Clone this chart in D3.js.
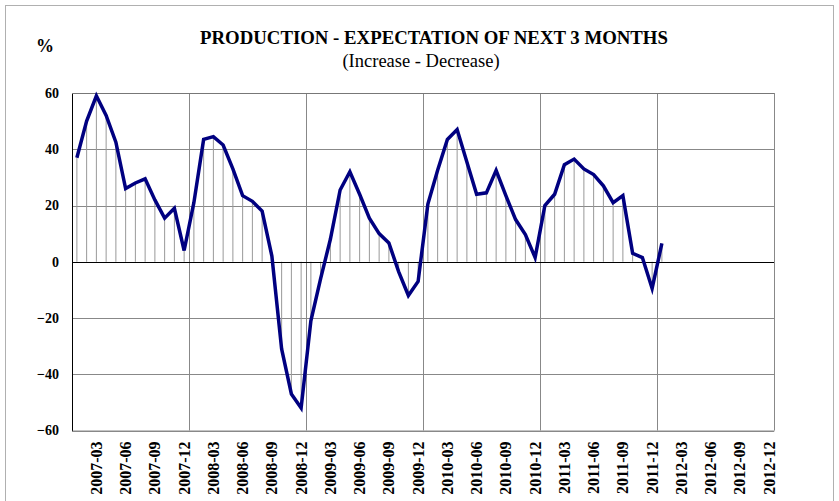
<!DOCTYPE html>
<html>
<head>
<meta charset="utf-8">
<script src="https://cdn.jsdelivr.net/npm/d3@7"></script>
<style>
  body { margin: 0; background: #fff; }
</style>
</head>
<body>
<svg></svg>
<script>
var serif = "'Liberation Serif', 'Times New Roman', Times, 'DejaVu Serif', serif";

var svg = d3.select("svg")
            .attr("width", 839)
            .attr("height", 501)
            .attr("font-family", serif);

// months 2007-01 .. 2012-12
var months = [];
for (var yr = 2007; yr <= 2012; yr++) {
    for (var m = 1; m <= 12; m++) months.push(yr + "-" + (m < 10 ? "0" + m : m));
}

// balance (increase - decrease), 2007-01 .. 2012-01
var values = [37, 50, 59, 52, 42.5, 26, 28, 29.5, 22, 15.5, 19, 4,
              21, 43.5, 44.5, 41.5, 33, 23.5, 21.5, 18, 2, -31, -47, -52,
              -21, -6, 8, 25.5, 32, 24, 15.5, 10, 6.7, -3.5, -12, -7,
              20.5, 32.5, 43.5, 47, 35.5, 24, 24.5, 32.5, 23.5, 15, 9.7, 1.5,
              20, 24, 34.5, 36.5, 33, 31, 27, 21, 23.5, 3, 1.5, -9.5, 6.5];

var yTicks = [-60, -40, -20, 0, 20, 40, 60];

var margin = {top: 93, right: 65, bottom: 70, left: 72},
    width = 839 - margin.left - margin.right,
    height = 501 - margin.top - margin.bottom - 0.5;

//outer frame
svg.append("rect")
    .attr("x", 5.5).attr("y", 5.5)
    .attr("width", 828).attr("height", 510)
    .style("fill", "none")
    .style("stroke", "#b0b0b0");

var g = svg.append("g").attr("transform", "translate(" + margin.left + "," + margin.top + ")");

var x = d3.scaleBand().domain(months).range([0, width]).padding(0),
    y = d3.scaleLinear().domain([-60, 60]).range([height, 0]);

var data = values.map(function(v, i) { return {month: months[i], value: v}; });

//horizontal grid
g.selectAll(".hgrid")
    .data(yTicks.filter(function(d) { return d !== 0; }))
    .enter().append("line")
    .attr("x1", 0).attr("x2", width)
    .attr("y1", function(d) { return Math.round(y(d)) + 0.5; })
    .attr("y2", function(d) { return Math.round(y(d)) + 0.5; })
    .style("stroke", "#888")
    .style("stroke-width", 1);

//vertical grid at year boundaries
var yearStarts = months.filter(function(d, i) { return i % 12 === 0 && i > 0; });
g.selectAll(".vgrid")
    .data(yearStarts)
    .enter().append("line")
    .attr("x1", function(d) { return Math.round(x(d)) + 0.5; })
    .attr("x2", function(d) { return Math.round(x(d)) + 0.5; })
    .attr("y1", 0).attr("y2", height)
    .style("stroke", "#888");

//right border
g.append("line")
    .attr("x1", Math.round(width) + 0.5).attr("x2", Math.round(width) + 0.5)
    .attr("y1", 0).attr("y2", height)
    .style("stroke", "#888");

//drop lines
g.selectAll(".drop")
    .data(data)
    .enter().append("line")
    .attr("x1", function(d) { return x(d.month) + x.bandwidth() / 2; })
    .attr("x2", function(d) { return x(d.month) + x.bandwidth() / 2; })
    .attr("y1", y(0))
    .attr("y2", function(d) { return y(d.value); })
    .style("stroke", "#999")
    .style("stroke-width", 1);

//zero line
g.append("line")
    .attr("x1", 0).attr("x2", width)
    .attr("y1", Math.round(y(0)) + 0.5).attr("y2", Math.round(y(0)) + 0.5)
    .style("stroke", "#000");

//y axis
var yAxis = g.append("g")
    .attr("class", "axis-y")
    .call(d3.axisLeft(y).tickValues(yTicks).tickSize(0).tickPadding(13));
yAxis.attr("font-family", serif);
yAxis.select(".domain").style("stroke", "#000");
yAxis.selectAll("text")
    .style("font-size", "14px")
    .style("font-weight", "bold")
    .style("fill", "#000");

//x axis labels (every 3rd month)
var xAxis = g.append("g")
    .attr("class", "axis-x")
    .attr("transform", "translate(0," + height + ")")
    .call(d3.axisBottom(x)
        .tickValues(months.filter(function(d, i) { return i % 3 === 2; }))
        .tickSize(0));
xAxis.attr("font-family", serif);
xAxis.select(".domain").style("stroke", "#888");
xAxis.selectAll("text")
    .attr("transform", "rotate(-90)")
    .attr("x", -11)
    .attr("y", 0)
    .attr("dy", "0.35em")
    .style("text-anchor", "end")
    .style("font-size", "16px")
    .style("font-weight", "bold")
    .style("fill", "#000");

//top border
g.append("line")
    .attr("x1", 0).attr("x2", width)
    .attr("y1", 0.5).attr("y2", 0.5)
    .style("stroke", "#777");

//series line
var line = d3.line()
    .x(function(d) { return x(d.month) + x.bandwidth() / 2; })
    .y(function(d) { return y(d.value); });

g.append("path")
    .datum(data)
    .attr("d", line)
    .style("fill", "none")
    .style("stroke", "#000080")
    .style("stroke-width", 3.5)
    .style("stroke-linejoin", "miter");

//titles
svg.append("text")
    .attr("x", 434).attr("y", 44)
    .attr("text-anchor", "middle")
    .style("font-size", "18.8px")
    .style("font-weight", "bold")
    .text("PRODUCTION - EXPECTATION OF NEXT 3 MONTHS");

svg.append("text")
    .attr("x", 421).attr("y", 67)
    .attr("text-anchor", "middle")
    .style("font-size", "18.5px")
    .text("(Increase - Decrease)");

svg.append("text")
    .attr("x", 45).attr("y", 52)
    .attr("text-anchor", "middle")
    .style("font-size", "18px")
    .style("font-weight", "bold")
    .text("%");
</script>
</body>
</html>
